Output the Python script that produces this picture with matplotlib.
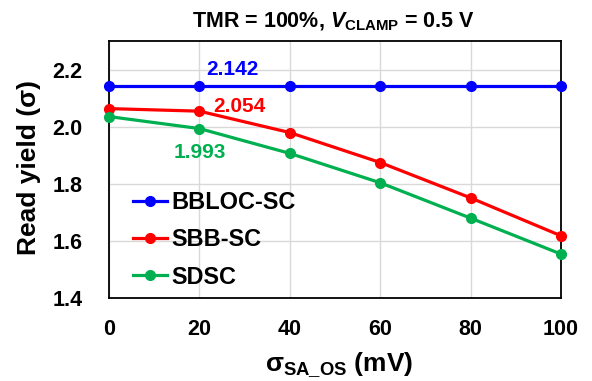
import matplotlib
matplotlib.use("Agg")
import matplotlib.pyplot as plt

plt.rcParams['font.family'] = ['Liberation Sans', 'DejaVu Sans']
plt.rcParams['font.weight'] = 'bold'
plt.rcParams['mathtext.fontset'] = 'custom'
plt.rcParams['mathtext.rm'] = 'Liberation Sans:bold'
plt.rcParams['mathtext.it'] = 'Liberation Sans:bold:italic'
plt.rcParams['mathtext.bf'] = 'Liberation Sans:bold'

x = [0, 20, 40, 60, 80, 100]
bbloc = [2.142, 2.142, 2.142, 2.142, 2.142, 2.142]
sbb = [2.063, 2.054, 1.979, 1.874, 1.750, 1.617]
sdsc = [2.035, 1.993, 1.906, 1.803, 1.679, 1.553]
series_names = ['BBLOC-SC', 'SBB-SC', 'SDSC']
colors = ['#0000FF', '#FF0000', '#00B050']
xticks = [0, 20, 40, 60, 80, 100]
yticks = [1.4, 1.6, 1.8, 2.0, 2.2]

fig = plt.figure(figsize=(5.92, 3.81), dpi=100)
ax = fig.add_axes([109/592, 1-297.7/381, (561-109)/592, (297.7-41)/381])

for ys, name, c in zip([bbloc, sbb, sdsc], series_names, colors):
    ax.plot(x, ys, color=c, lw=2.3, marker='o', ms=7, label=name, clip_on=False, zorder=3)

ax.set_xlim(0, 100)
ax.set_ylim(1.4, 2.3)
ax.set_xticks(xticks)
ax.set_yticks(yticks)
ax.set_yticklabels([f"{v:.1f}" for v in yticks])
ax.grid(True, color='#D9D9D9', lw=1.0)
ax.set_axisbelow(True)
ax.tick_params(length=0, labelsize=15.5)
ax.tick_params(axis='y', pad=19)
ax.tick_params(axis='x', pad=15)
for s in ax.spines.values():
    s.set_linewidth(1.3)
    s.set_color('black')

ax.annotate('2.142', xy=(20, bbloc[1]), xytext=(24, 12.2), textcoords='offset points',
            ha='center', va='center', color=colors[0], fontsize=15, fontweight='bold')
ax.annotate('2.054', xy=(20, sbb[1]), xytext=(29, 3.6), textcoords='offset points',
            ha='center', va='center', color=colors[1], fontsize=15, fontweight='bold')
ax.annotate('1.993', xy=(20, sdsc[1]), xytext=(0.4, -17.5), textcoords='offset points',
            ha='center', va='center', color=colors[2], fontsize=15, fontweight='bold')

ax.set_ylabel('Read yield (σ)', fontsize=19, fontweight='bold')
ax.yaxis.set_label_coords(-0.150, 0.508)
ax.set_xlabel('σ$_{\\mathrm{SA\\_OS}}$ (mV)', fontsize=19, fontweight='bold')
ax.xaxis.set_label_coords(0.509, -0.205)

fig.text(333.5/592, 1-27/381, 'TMR = 100%, $V_{\\mathrm{CLAMP}}$ = 0.5 V', ha='center', va='baseline',
         fontsize=15.5, fontweight='bold')

leg = ax.legend(loc='center left', bbox_to_anchor=(0.053, 0.225), frameon=False, fontsize=16.9,
                handlelength=1.45, handletextpad=0.2, labelspacing=0.6, borderpad=0, borderaxespad=0)

fig.savefig('out.png', dpi=100)
